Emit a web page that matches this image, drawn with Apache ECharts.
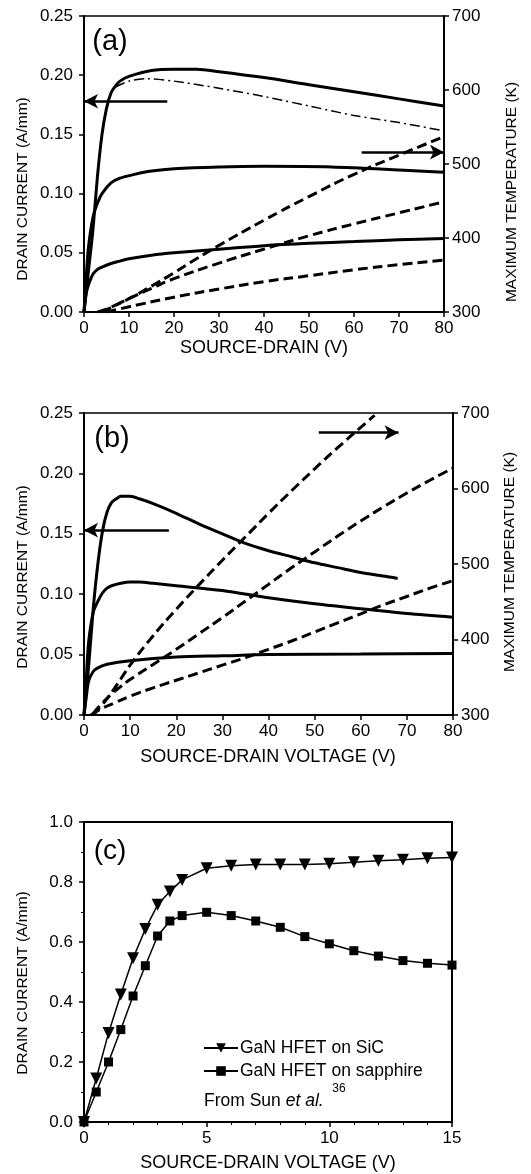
<!DOCTYPE html>
<html>
<head>
<meta charset="utf-8">
<script src="https://cdn.jsdelivr.net/npm/echarts@6/dist/echarts.min.js"></script>
<style>
  html, body { margin: 0; padding: 0; background: #fff; }
  #chart { width: 531px; height: 1174px; }
</style>
</head>
<body>
<div id="chart"></div>
<script>
// panel (a): drain current (A/mm) vs source-drain voltage (V)
const aCurrentTop = [[0, 0], [1, 0.035], [2, 0.07], [3, 0.115], [4, 0.15], [5, 0.172], [6, 0.185], [7, 0.191], [8, 0.195], [10, 0.199], [15, 0.204], [20, 0.205], [25, 0.205], [30, 0.203], [40, 0.198], [50, 0.192], [60, 0.186], [70, 0.180], [80, 0.174]]
const aCurrentDashDot = [[7, 0.190], [10, 0.195], [14, 0.197], [20, 0.195], [30, 0.189], [40, 0.182], [50, 0.174], [60, 0.166], [70, 0.160], [80, 0.153]]
const aCurrentMid = [[0, 0], [0.5, 0.03], [1, 0.055], [2, 0.08], [3, 0.092], [4, 0.1], [6, 0.109], [8, 0.113], [11, 0.116], [15, 0.119], [20, 0.121], [30, 0.1225], [40, 0.123], [55, 0.1225], [70, 0.120], [80, 0.118]]
const aCurrentLow = [[0, 0], [0.5, 0.016], [1, 0.023], [1.5, 0.028], [2, 0.032], [3, 0.036], [4, 0.038], [6, 0.041], [8, 0.043], [10, 0.045], [15, 0.048], [20, 0.050], [30, 0.053], [40, 0.056], [50, 0.058], [60, 0.0595], [70, 0.061], [80, 0.062]]
// panel (a): maximum temperature (K)
const aTempHigh = [[3, 300], [5, 304], [10, 318], [15, 335], [20, 353], [25, 372], [30, 390], [40, 424], [50, 456], [60, 486], [70, 512], [80, 537]]
const aTempMid = [[4, 300], [6, 306], [10, 318], [15, 332], [20, 345], [30, 366], [40, 385], [50, 403], [60, 419], [70, 434], [80, 449]]
const aTempLow = [[5, 300], [10, 307], [20, 320], [30, 331], [40, 341], [50, 349], [60, 357], [70, 364], [80, 370]]

// panel (b)
const bCurrentTop = [[0, 0], [1, 0.04], [2, 0.088], [3, 0.125], [4, 0.152], [5, 0.168], [6, 0.176], [7, 0.179], [8, 0.181], [10, 0.181], [12, 0.179], [15, 0.175], [20, 0.167], [25, 0.158], [30, 0.150], [35, 0.142], [40, 0.136], [45, 0.131], [50, 0.126], [55, 0.122], [60, 0.118], [65, 0.115], [68, 0.113]]
const bCurrentMid = [[0, 0], [0.5, 0.03], [1, 0.06], [2, 0.085], [3, 0.094], [4, 0.101], [5, 0.105], [6, 0.107], [8, 0.109], [10, 0.110], [12, 0.110], [15, 0.109], [20, 0.107], [30, 0.103], [40, 0.097], [50, 0.092], [60, 0.088], [70, 0.084], [80, 0.081]]
const bCurrentLow = [[0, 0], [0.5, 0.015], [1, 0.028], [2, 0.036], [3, 0.039], [5, 0.042], [10, 0.045], [20, 0.048], [30, 0.049], [40, 0.050], [60, 0.0505], [80, 0.051]]
const bTempHigh = [[2, 300], [4, 314], [6, 330], [8, 348], [10, 366], [15, 405], [20, 440], [25, 473], [30, 505], [35, 536], [40, 567], [45, 597], [50, 626], [55, 654], [60, 681], [63, 697]]
const bTempMid = [[2, 302], [4, 316], [6, 328], [8, 338], [10, 347], [15, 367], [20, 387], [25, 408], [30, 429], [35, 451], [40, 473], [45, 495], [50, 516], [55, 537], [60, 557], [65, 576], [70, 594], [75, 611], [80, 627]]
const bTempLow = [[1.5, 300], [4, 309], [7, 317], [10, 325], [15, 336], [20, 346], [25, 356], [30, 366], [35, 376], [40, 387], [45, 398], [50, 410], [55, 422], [60, 434], [65, 446], [70, 457], [75, 468], [80, 478]]

// panel (c): GaN HFET, from Sun et al.
const cVoltage = [0, 0.5, 1, 1.5, 2, 2.5, 3, 3.5, 4, 5, 6, 7, 8, 9, 10, 11, 12, 13, 14, 15]
const cSiC = [0, 0.145, 0.297, 0.425, 0.546, 0.643, 0.724, 0.768, 0.807, 0.846, 0.854, 0.858, 0.858, 0.858, 0.861, 0.866, 0.871, 0.874, 0.879, 0.882]
const cSapphire = [0, 0.1, 0.2, 0.308, 0.42, 0.521, 0.62, 0.67, 0.688, 0.699, 0.688, 0.67, 0.649, 0.618, 0.594, 0.571, 0.553, 0.538, 0.529, 0.523]

// arrows pointing at the axis each curve family belongs to
const aArrowLeft = [[18.5, 0.178], [0, 0.178]]
const aArrowRight = [[61.7, 516], [80, 516]]
const bArrowLeft = [[18.4, 0.153], [0, 0.153]]
const bArrowRight = [[50.9, 674], [68.2, 674]]

const font = 'Liberation Sans, Arial, Helvetica, sans-serif'

const chart = echarts.init(document.getElementById('chart'))

function xAxis(gridIndex, max, interval, minor) {
  return {
    type: 'value', gridIndex, min: 0, max, interval,
    axisLine: { lineStyle: { color: '#000', width: 2 } },
    axisTick: { length: 5, lineStyle: { color: '#000', width: 1.5 } },
    minorTick: { show: !!minor, splitNumber: minor || 5, length: 3, lineStyle: { color: '#000' } },
    axisLabel: { color: '#000', fontFamily: font, fontSize: 17, margin: 8 },
    splitLine: { show: false }
  }
}

function yAxis(gridIndex, min, max, interval, decimals, position, minor) {
  return {
    type: 'value', gridIndex, min, max, interval, position,
    axisLine: { show: true, lineStyle: { color: '#000', width: 2 } },
    axisTick: { show: true, length: 5, lineStyle: { color: '#000', width: 1.5 } },
    minorTick: { show: !!minor, splitNumber: minor || 2, length: 3, lineStyle: { color: '#000' } },
    axisLabel: {
      color: '#000', fontFamily: font, fontSize: 17, margin: position === 'left' ? 11 : 8,
      formatter: v => v.toFixed(decimals)
    },
    splitLine: { show: false }
  }
}

function curve(data, xIdx, yIdx, style, smooth) {
  return {
    type: 'line', data, xAxisIndex: xIdx, yAxisIndex: yIdx,
    showSymbol: false, smooth: smooth || 0.3,
    lineStyle: Object.assign({ color: '#000', width: 3 }, style),
    silent: true
  }
}

function arrow(pts) {
  return {
    silent: true,
    symbol: ['none', 'arrow'],
    symbolSize: [11, 14],
    label: { show: false },
    lineStyle: { color: '#000', width: 2.5, type: 'solid' },
    data: [[{ coord: pts[0] }, { coord: pts[1] }]]
  }
}

const solid = {}
const dashed = { width: 3, type: [10, 5] }
const dashDot = { width: 1.5, type: [10, 4, 2, 4] }

function vTitle(text, x, y) {
  return {
    type: 'text', x, y, rotation: Math.PI / 2,
    style: { text, fill: '#000', font: '15.5px ' + font, textAlign: 'center', textVerticalAlign: 'middle' }
  }
}

function hText(text, x, y, size, align) {
  return {
    type: 'text', x, y,
    style: { text, fill: '#000', font: size + 'px ' + font, textAlign: align || 'center', textVerticalAlign: 'middle' }
  }
}

const aSeriesTop = curve(aCurrentTop, 0, 0, solid)
aSeriesTop.markLine = arrow(aArrowLeft)
const aSeriesTemp = curve(aTempHigh, 0, 1, dashed, 0.5)
aSeriesTemp.markLine = arrow(aArrowRight)
const bSeriesTop = curve(bCurrentTop, 1, 2, solid)
bSeriesTop.markLine = arrow(bArrowLeft)
const bSeriesTemp = curve(bTempHigh, 1, 3, dashed, 0.5)
bSeriesTemp.markLine = arrow(bArrowRight)

chart.setOption({
  animation: false,
  grid: [
    { left: 84, right: 87, top: 16, height: 296, show: true, borderColor: '#000', borderWidth: 1.5 },
    { left: 84, right: 78, top: 413, height: 302, show: true, borderColor: '#000', borderWidth: 1.5 },
    { left: 84, right: 79, top: 822, height: 300, show: true, borderColor: '#000', borderWidth: 2 }
  ],
  xAxis: [
    xAxis(0, 80, 10),
    xAxis(1, 80, 10),
    xAxis(2, 15, 5, 5)
  ],
  yAxis: [
    yAxis(0, 0, 0.25, 0.05, 2, 'left'),
    yAxis(0, 300, 700, 100, 0, 'right'),
    yAxis(1, 0, 0.25, 0.05, 2, 'left'),
    yAxis(1, 300, 700, 100, 0, 'right'),
    yAxis(2, 0, 1.0, 0.2, 1, 'left', 2)
  ],
  legend: {
    left: 198, top: 1034, orient: 'vertical', itemGap: 5,
    itemWidth: 34, itemHeight: 12,
    textStyle: { color: '#000', fontFamily: font, fontSize: 17.5, padding: [0, 0, 0, -3] },
    data: ['GaN HFET on SiC', 'GaN HFET on sapphire']
  },
  series: [
    aSeriesTop,
    curve(aCurrentDashDot, 0, 0, dashDot),
    curve(aCurrentMid, 0, 0, solid),
    curve(aCurrentLow, 0, 0, solid),
    aSeriesTemp,
    curve(aTempMid, 0, 1, dashed, 0.5),
    curve(aTempLow, 0, 1, dashed, 0.5),
    bSeriesTop,
    curve(bCurrentMid, 1, 2, solid),
    curve(bCurrentLow, 1, 2, solid),
    bSeriesTemp,
    curve(bTempMid, 1, 3, dashed, 0.5),
    curve(bTempLow, 1, 3, dashed, 0.5),
    {
      name: 'GaN HFET on SiC', type: 'line', xAxisIndex: 2, yAxisIndex: 4,
      data: cVoltage.map((v, i) => [v, cSiC[i]]),
      symbol: 'triangle', symbolRotate: 180, symbolSize: 12,
      itemStyle: { color: '#000' }, lineStyle: { color: '#000', width: 1.5 }
    },
    {
      name: 'GaN HFET on sapphire', type: 'line', xAxisIndex: 2, yAxisIndex: 4,
      data: cVoltage.map((v, i) => [v, cSapphire[i]]),
      symbol: 'rect', symbolSize: 9,
      itemStyle: { color: '#000' }, lineStyle: { color: '#000', width: 1.5 }
    }
  ],
  graphic: [
    hText('(a)', 110, 42, 29),
    hText('(b)', 112, 439, 29),
    hText('(c)', 110, 851, 28),
    vTitle('DRAIN CURRENT (A/mm)', 23, 189),
    vTitle('MAXIMUM TEMPERATURE (K)', 512, 192),
    vTitle('DRAIN CURRENT (A/mm)', 23, 577),
    vTitle('MAXIMUM TEMPERATURE (K)', 510, 562),
    vTitle('DRAIN CURRENT (A/mm)', 23, 983),
    hText('SOURCE-DRAIN (V)', 264, 348, 18),
    hText('SOURCE-DRAIN VOLTAGE (V)', 268, 757, 18),
    hText('SOURCE-DRAIN VOLTAGE (V)', 268, 1163, 18),
    {
      type: 'text', x: 204, y: 1101,
      style: {
        text: '{n|From Sun }{i|et al.}',
        fill: '#000', textVerticalAlign: 'middle',
        rich: {
          n: { fontFamily: font, fontSize: 17.5, fill: '#000' },
          i: { fontFamily: font, fontSize: 17.5, fontStyle: 'italic', fill: '#000' }
        }
      }
    },
    hText('36', 339, 1089, 12)
  ]
})
</script>
</body>
</html>
